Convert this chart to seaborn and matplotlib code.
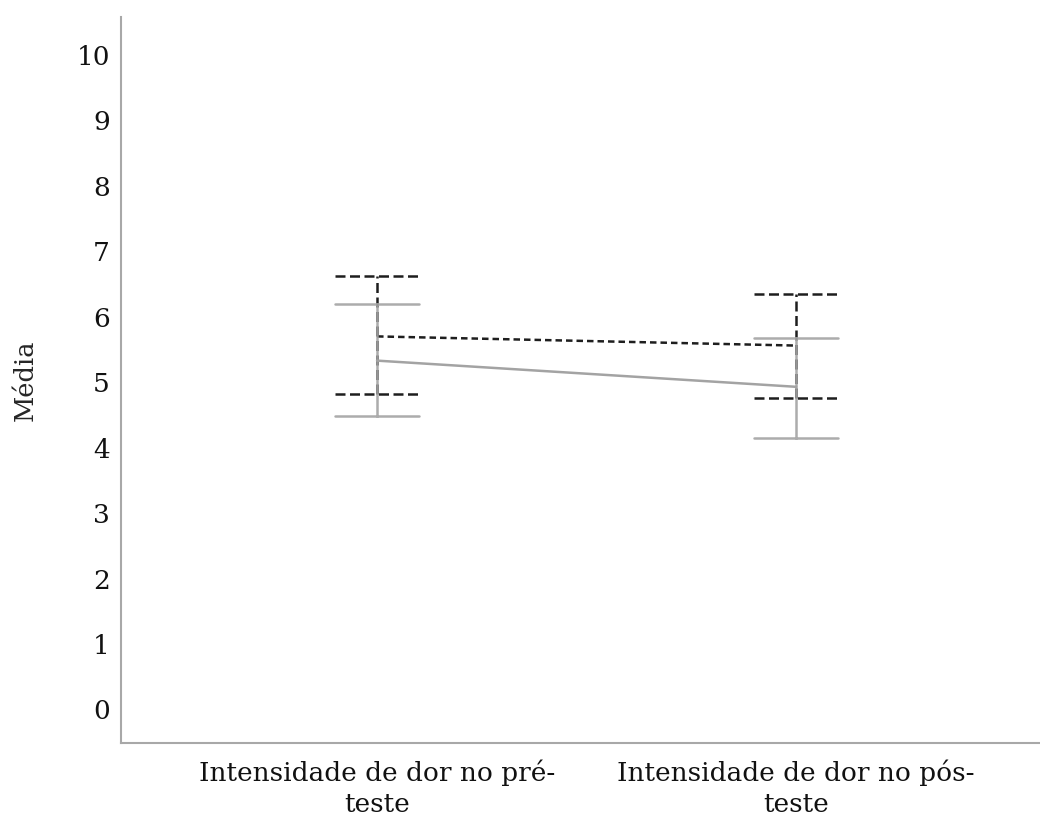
import numpy as np
import pandas as pd
import matplotlib
matplotlib.use("Agg")
import matplotlib.pyplot as plt
import seaborn as sns

# Category labels (x axis)
categorias = ["Intensidade de dor no pré-\nteste", "Intensidade de dor no pós-\nteste"]

# Group 1 (solid grey): means and interval limits
media_g1 = [5.33, 4.93]
inf_g1 = [4.49, 4.15]
sup_g1 = [6.20, 5.68]

# Group 2 (dashed black): means and interval limits
media_g2 = [5.70, 5.56]
inf_g2 = [4.82, 4.76]
sup_g2 = [6.62, 6.35]

yticks = list(range(0, 11))


def long_form(media, inf, sup):
    # three rows per category: lower limit, mean, upper limit
    rows = []
    for cat, lo, m, hi in zip(categorias, inf, media, sup):
        for v in (lo, m, hi):
            rows.append({"tempo": cat, "valor": v})
    return pd.DataFrame(rows)


sns.set_theme(style="white")
plt.rcParams["font.family"] = ["DejaVu Serif"]

fig = plt.figure(figsize=(10.4, 8.22), dpi=100)
ax = fig.add_axes([121 / 1040, 79 / 822, 919 / 1040, 726 / 822])

interval = lambda v: (v.min(), v.max())

# dashed black group
sns.pointplot(data=long_form(media_g2, inf_g2, sup_g2), x="tempo", y="valor",
              order=categorias, estimator="median", errorbar=interval,
              color="#1e1e1e", linestyle=(0, (2.6, 1.6)), linewidth=1.8,
              markersize=0, capsize=0.2,
              err_kws={"linestyle": (0, (4.0, 1.8)), "linewidth": 1.8,
                       "color": "#1e1e1e"},
              ax=ax)

# solid grey group
sns.pointplot(data=long_form(media_g1, inf_g1, sup_g1), x="tempo", y="valor",
              order=categorias, estimator="median", errorbar=interval,
              color="#a3a3a3", linestyle="-", linewidth=1.8,
              markersize=0, capsize=0.2,
              err_kws={"linestyle": "-", "linewidth": 1.8,
                       "color": "#a3a3a3", "alpha": 0.9},
              ax=ax)

ax.set_xlim(-0.611, 1.582)
ax.set_ylim(-0.512, 10.58)
ax.set_yticks(yticks)
ax.set_yticklabels([str(t) for t in yticks])
ax.set_xlabel("")
ax.set_ylabel("Média", fontsize=18.5, labelpad=28)

ax.tick_params(axis="both", length=0, labelsize=19, colors="#111111")
ax.tick_params(axis="y", pad=8)
ax.tick_params(axis="x", pad=12)
for lab in ax.get_xticklabels():
    lab.set_linespacing(1.3)

for side in ("top", "right"):
    ax.spines[side].set_visible(False)
for side in ("left", "bottom"):
    ax.spines[side].set_color("#a8a8a8")
    ax.spines[side].set_linewidth(1.5)

fig.savefig("out.png", dpi=100)
